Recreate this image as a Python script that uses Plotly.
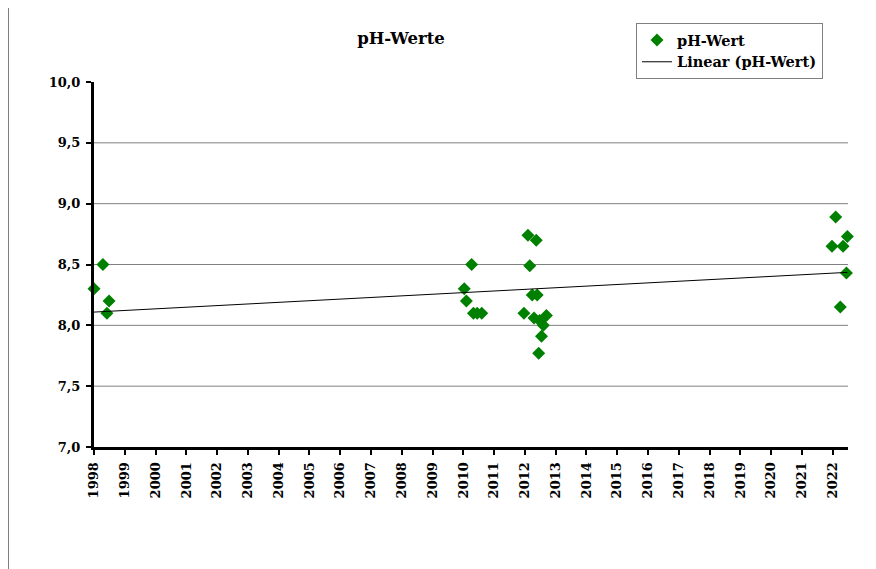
import numpy as np
import plotly.graph_objects as go

# Data (decimal years, pH values)
dates = [1998.00, 1998.29, 1998.49, 1998.42,
         2010.03, 2010.10, 2010.27, 2010.33, 2010.45, 2010.60,
         2011.97, 2012.10, 2012.16, 2012.24, 2012.30, 2012.37, 2012.40,
         2012.45, 2012.48, 2012.54, 2012.60, 2012.70,
         2021.98, 2022.10, 2022.25, 2022.34, 2022.45, 2022.48]
ph = [8.30, 8.50, 8.20, 8.10,
      8.30, 8.20, 8.50, 8.10, 8.10, 8.10,
      8.10, 8.74, 8.49, 8.25, 8.06, 8.70, 8.25,
      7.77, 8.04, 7.91, 8.00, 8.08,
      8.65, 8.89, 8.15, 8.65, 8.43, 8.73]

year_ticks = list(range(1998, 2023))
year_labels = [str(y) for y in year_ticks]
y_ticks = [7.0, 7.5, 8.0, 8.5, 9.0, 9.5, 10.0]
y_labels = ["7,0", "7,5", "8,0", "8,5", "9,0", "9,5", "10,0"]

# Linear trend over the data range
slope, intercept = np.polyfit(dates, ph, 1)
trend_x = [min(dates), max(dates)]
trend_y = [slope * x + intercept for x in trend_x]

FONT = "DejaVu Serif"

W, H = 876, 569
L, R, T, B = 86, 36, 74, 130
PW, PH = W - L - R, H - T - B


def px(xf):
    return (xf - L) / PW


def py(yf):
    return (H - B - yf) / PH


fig = go.Figure()
fig.add_trace(go.Scatter(
    x=dates, y=ph, mode="markers", name="pH-Wert",
    marker=dict(symbol="diamond", size=10, color="#008000"),
    cliponaxis=False,
))
fig.add_trace(go.Scatter(
    x=trend_x, y=trend_y, mode="lines", name="Linear (pH-Wert)",
    line=dict(color="black", width=1),
))

fig.update_layout(
    width=W, height=H,
    margin=dict(l=L, r=R, t=T, b=B),
    paper_bgcolor="white", plot_bgcolor="white",
    font=dict(family=FONT, color="black", size=14, weight="bold"),
    title=dict(text="pH-Werte", x=393 / W, xanchor="center",
               y=1 - 30 / H, yanchor="middle",
               font=dict(family=FONT, size=16.5, weight="bold", color="black")),
    showlegend=True,
    legend=dict(x=px(628), y=py(15), xanchor="left", yanchor="top",
                bordercolor="#808080", borderwidth=1, bgcolor="white",
                font=dict(family=FONT, size=14.5, weight="bold", color="black"),
                tracegroupgap=0, itemwidth=30),
    xaxis=dict(range=[1998, 2022.5], tickmode="array", tickvals=year_ticks,
               ticktext=year_labels, tickangle=-90, showgrid=False, zeroline=False,
               showline=True, linecolor="black", linewidth=3,
               ticks="outside", ticklen=5, tickwidth=2, tickcolor="black",
               ticklabelstandoff=2,
               tickfont=dict(family=FONT, size=13, weight="bold", color="black")),
    yaxis=dict(range=[7.0, 10.0], tickmode="array", tickvals=y_ticks,
               ticktext=y_labels, showgrid=False, zeroline=False,
               showline=True, linecolor="black", linewidth=3,
               ticks="outside", ticklen=5, tickwidth=2, tickcolor="black",
               ticklabelstandoff=3,
               tickfont=dict(family=FONT, size=13, weight="bold", color="black")),
)

# Gridlines (gray) at 7.5 .. 9.5
shapes = []
for v in y_ticks[1:-1]:
    shapes.append(dict(type="line", xref="paper", yref="y", x0=0, x1=1, y0=v, y1=v,
                       line=dict(color="#808080", width=1), layer="below"))
# Outer chart border around the figure
shapes.append(dict(type="rect", xref="paper", yref="paper",
                   x0=px(0.5), x1=px(W - 0.5), y0=py(H - 0.5), y1=py(-0.5),
                   line=dict(color="#808080", width=1), fillcolor="rgba(0,0,0,0)"))
fig.update_layout(shapes=shapes)

fig.write_html("out.html")
